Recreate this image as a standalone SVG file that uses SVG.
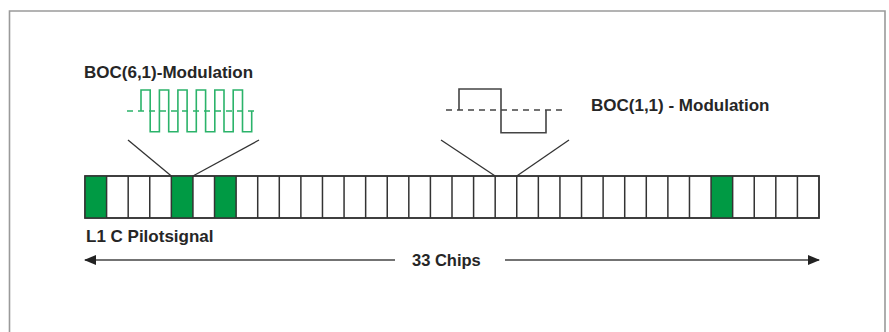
<svg xmlns="http://www.w3.org/2000/svg" width="889" height="332" viewBox="0 0 889 332">
<defs>
<style>
.lbl{font-family:"Liberation Sans",Arial,sans-serif;font-weight:bold;font-size:17px;fill:#262626}
.cell{fill:#fff;stroke:#333;stroke-width:1.5}
.g{fill:#009a44}
.conn{stroke:#333;stroke-width:1.3;fill:none}
.wave{fill:none;stroke-width:1.6;stroke-linejoin:miter}
</style>
<marker id="ah" viewBox="0 0 12 10" refX="11" refY="5" markerWidth="12" markerHeight="10" markerUnits="userSpaceOnUse" orient="auto-start-reverse">
<path d="M0,0 L12,5 L0,10 Z" fill="#222"/>
</marker>
</defs>
<rect x="0" y="0" width="889" height="332" fill="#fff"/>
<path d="M9.5,340 V11 H885 V340" fill="none" stroke="#9a9a9a" stroke-width="1.6"/>

<g id="chips">
<rect class="cell" x="85" y="176" width="734" height="42"/>
<rect class="g" x="85" y="176" width="21.59" height="42"/>
<rect class="g" x="171.35" y="176" width="21.59" height="42"/>
<rect class="g" x="214.53" y="176" width="21.59" height="42"/>
<rect class="g" x="711.06" y="176" width="21.59" height="42"/>
<path stroke="#333" stroke-width="1.5" fill="none" d="M106.59,176V218M128.18,176V218M149.76,176V218M171.35,176V218M192.94,176V218M214.53,176V218M236.12,176V218M257.71,176V218M279.29,176V218M300.88,176V218M322.47,176V218M344.06,176V218M365.65,176V218M387.24,176V218M408.82,176V218M430.41,176V218M452,176V218M473.59,176V218M495.18,176V218M516.76,176V218M538.35,176V218M559.94,176V218M581.53,176V218M603.12,176V218M624.71,176V218M646.29,176V218M667.88,176V218M689.47,176V218M711.06,176V218M732.65,176V218M754.24,176V218M775.82,176V218M797.41,176V218"/>
<rect x="85" y="176" width="734" height="42" fill="none" stroke="#333" stroke-width="1.5"/>
</g>

<g id="boc61">
<text class="lbl" x="84" y="78">BOC(6,1)-Modulation</text>
<line x1="127" y1="111" x2="259" y2="111" stroke="#2bb36a" stroke-width="1.4" stroke-dasharray="6 5"/>
<path class="wave" stroke="#2bb36a" d="M141,111 V90 H150.2 V131.7 H159.4 V90 H168.7 V131.7 H177.9 V90 H187.1 V131.7 H196.3 V90 H205.6 V131.7 H214.8 V90 H224 V131.7 H233.2 V90 H242.5 V131.7 H251.7 V111"/>
</g>

<g id="boc11">
<text class="lbl" x="591" y="111">BOC(1,1) - Modulation</text>
<line x1="446" y1="110" x2="567" y2="110" stroke="#444" stroke-width="1.4" stroke-dasharray="6 5"/>
<path class="wave" stroke="#444" d="M459,110 V89 H501 V132.7 H546 V110"/>
</g>

<g id="pilot">
<text class="lbl" x="86" y="242">L1 C Pilotsignal</text>
</g>

<g id="chipcount">
<text class="lbl" x="412" y="266" style="font-size:16.5px">33 Chips</text>
</g>

<g id="connectors">
<line class="conn" x1="128" y1="140" x2="171.35" y2="176"/>
<line class="conn" x1="259" y1="140" x2="192.94" y2="176"/>
<line class="conn" x1="441" y1="140" x2="495.18" y2="176"/>
<line class="conn" x1="569" y1="140" x2="516.76" y2="176"/>
<line x1="395" y1="260" x2="85" y2="260" stroke="#444" stroke-width="1.6" marker-end="url(#ah)"/>
<line x1="505" y1="260" x2="819" y2="260" stroke="#444" stroke-width="1.6" marker-end="url(#ah)"/>
</g>
</svg>
